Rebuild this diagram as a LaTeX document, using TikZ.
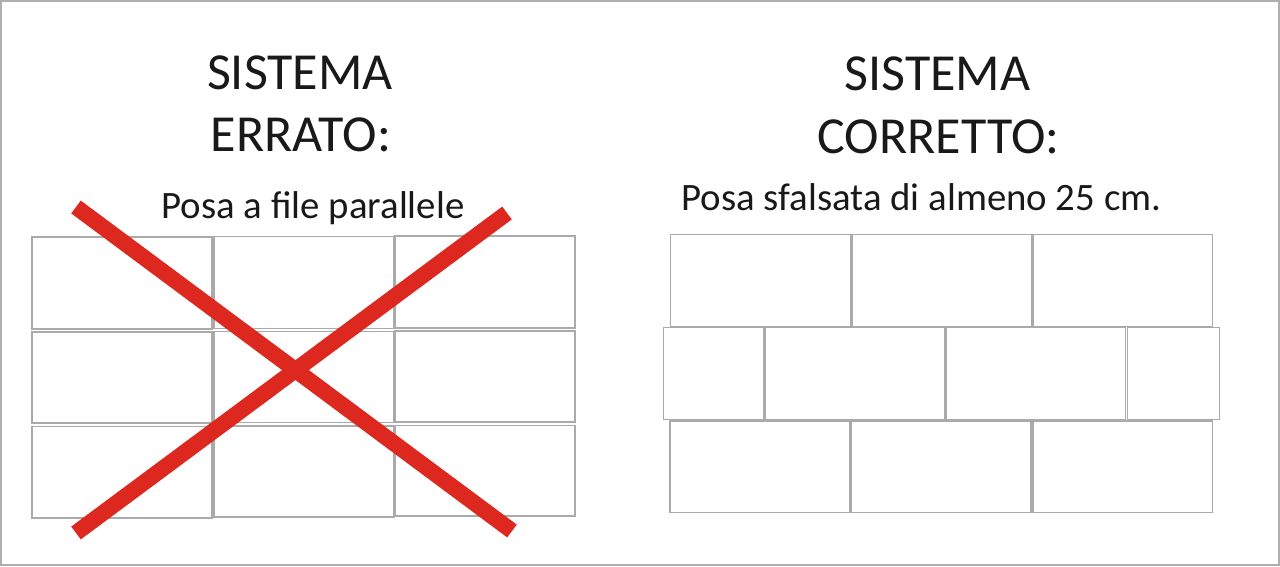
\documentclass[tikz,border=0pt]{standalone}
\usepackage{fontspec}
\setmainfont{Carlito}
\definecolor{tilegray}{RGB}{170,170,170}
\definecolor{framegray}{RGB}{175,175,175}
\definecolor{crossred}{RGB}{220,40,30}
\begin{document}
\begin{tikzpicture}[x=1pt,y=-1pt,
  tile/.style={draw=tilegray,line width=1.2pt},
  cross/.style={draw=crossred,line width=16pt},
  title/.style={inner sep=0pt,anchor=base,font=\fontsize{52}{62}\selectfont,text=black!90},
  sub/.style={inner sep=0pt,anchor=base,font=\fontsize{38.8}{45}\selectfont,text=black!90}]
\useasboundingbox (0,0) rectangle (1280,566);
\draw[draw=framegray,line width=2pt] (1,1) rectangle (1279,565);
% left tiles (parallel rows)
\draw[tile] (32,237) rectangle (212,329);
\draw[tile] (214,236.5) rectangle (394,328.5);
\draw[tile] (395,236) rectangle (575,328);
\draw[tile] (32,332) rectangle (212,423);
\draw[tile] (214,331.5) rectangle (394,422.5);
\draw[tile] (395,331) rectangle (575,422);
\draw[tile] (32,426.5) rectangle (212,518);
\draw[tile] (214,426) rectangle (394,517);
\draw[tile] (395,425.5) rectangle (575,516);
% red cross
\coordinate (c1a) at (76,207);
\coordinate (c1b) at (512,531);
\coordinate (c2a) at (76,533);
\coordinate (c2b) at (507,213);
\draw[cross] (c1a) -- (c1b);
\draw[cross] (c2a) -- (c2b);
% right tiles (staggered rows)
\draw[tile] (670.5,234.5) rectangle (850.5,326.5);
\draw[tile] (852,234.5) rectangle (1031.5,326.5);
\draw[tile] (1033,234.5) rectangle (1212.5,326.5);
\draw[tile] (663.5,327.5) rectangle (763.5,419.5);
\draw[tile] (765,327.5) rectangle (945,419.5);
\draw[tile] (946.5,327.5) rectangle (1125.5,419.5);
\draw[tile] (1127.5,327.5) rectangle (1219.5,419.5);
\draw[tile] (670,421) rectangle (850,512.5);
\draw[tile] (851.5,421) rectangle (1031,512.5);
\draw[tile] (1033,421) rectangle (1212.5,512.5);
% texts
\node[title] (t1) at (300,89.5) {SISTEMA};
\node[title] (t2) at (301,151.5) {ERRATO:};
\node[sub] (s1) at (313,218) {Posa a file parallele};
\node[title] (t3) at (937.5,90) {SISTEMA};
\node[title] (t4) at (938.5,153) {CORRETTO:};
\node[sub] (s2) at (921.5,210) {Posa sfalsata di almeno 25 cm.};
\end{tikzpicture}
\end{document}
